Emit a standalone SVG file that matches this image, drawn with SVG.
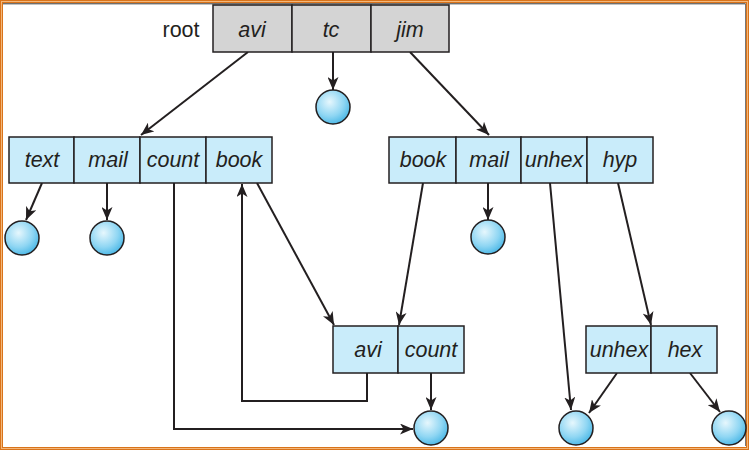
<svg xmlns="http://www.w3.org/2000/svg" width="749" height="450" viewBox="0 0 749 450">
<defs>
<marker id="ah" markerWidth="14" markerHeight="11" refX="13" refY="5.5" orient="auto" markerUnits="userSpaceOnUse">
<path d="M0,0 L13,5.5 L0,11 L3.5,5.5 z" fill="#231f20"/>
</marker>
<radialGradient id="ball" cx="0.4" cy="0.35" r="0.7">
<stop offset="0" stop-color="#e6f7fd"/>
<stop offset="0.6" stop-color="#8fd6f3"/>
<stop offset="1" stop-color="#45b5e5"/>
</radialGradient>
</defs>
<style>
.cell{stroke:#231f20;stroke-width:1.5}
.gray{fill:#d4d4d4}
.blue{fill:#c9ecfa}
.lbl{font-family:"Liberation Sans",Arial,sans-serif;font-style:italic;font-size:21.5px;fill:#231f20;text-anchor:middle}
.plain{font-family:"Liberation Sans",Arial,sans-serif;font-size:21.5px;fill:#231f20;text-anchor:middle}
.ball{fill:url(#ball);stroke:#231f20;stroke-width:1.5}
.con{stroke:#231f20;stroke-width:2;fill:none}
.arr{marker-end:url(#ah)}
</style>
<rect x="0" y="0" width="749" height="450" fill="#ffffff"/>
<rect x="1.5" y="1.5" width="746" height="447" fill="none" stroke="#f3b77a" stroke-width="3"/>
<rect x="0.5" y="0.5" width="748" height="449" fill="none" stroke="#d9731a" stroke-width="1"/>
<rect x="2.5" y="2.5" width="744" height="445" fill="none" stroke="#d9731a" stroke-width="1"/>
<line x1="3" y1="3.8" x2="745.5" y2="3.8" stroke="#333" stroke-width="1"/>
<line x1="745.5" y1="3.8" x2="745.5" y2="446" stroke="#555" stroke-width="0.8"/>

<g id="connectors">
<line class="con arr" x1="333" y1="52" x2="333" y2="90"/>
<line class="con arr" x1="248" y1="52" x2="141" y2="135"/>
<line class="con arr" x1="410" y1="52" x2="489" y2="135"/>
<line class="con arr" x1="42" y1="183" x2="26" y2="220"/>
<line class="con arr" x1="107" y1="183" x2="107" y2="220"/>
<line class="con arr" x1="488" y1="183" x2="488" y2="220"/>
<polyline class="con arr" points="174,183 174,429 413,429"/>
<polyline class="con arr" points="367,373 367,401 242,401 242,184"/>
<line class="con arr" x1="257" y1="183" x2="334" y2="325"/>
<line class="con arr" x1="423" y1="183" x2="399" y2="325"/>
<line class="con arr" x1="431" y1="373" x2="431" y2="410"/>
<line class="con arr" x1="550" y1="183" x2="571" y2="410"/>
<line class="con arr" x1="618" y1="183" x2="651" y2="325"/>
<line class="con arr" x1="617" y1="373" x2="589" y2="413"/>
<line class="con arr" x1="690" y1="373" x2="720" y2="412"/>
</g>

<g id="root">
<text class="plain" x="181" y="37">root</text>
<rect class="cell gray" x="213" y="5" width="79" height="47"/>
<rect class="cell gray" x="292" y="5" width="79" height="47"/>
<rect class="cell gray" x="371" y="5" width="78" height="47"/>
<text class="lbl" x="252" y="37">avi</text>
<text class="lbl" x="331" y="37">tc</text>
<text class="lbl" x="410" y="37">jim</text>
</g>

<g id="dir-avi">
<rect class="cell blue" x="9" y="137" width="65" height="46"/>
<rect class="cell blue" x="74" y="137" width="66" height="46"/>
<rect class="cell blue" x="140" y="137" width="66" height="46"/>
<rect class="cell blue" x="206" y="137" width="66" height="46"/>
<text class="lbl" x="42" y="167">text</text>
<text class="lbl" x="108" y="167">mail</text>
<text class="lbl" x="173" y="167">count</text>
<text class="lbl" x="239" y="167">book</text>
</g>

<g id="dir-jim">
<rect class="cell blue" x="389" y="137" width="67" height="46"/>
<rect class="cell blue" x="456" y="137" width="65" height="46"/>
<rect class="cell blue" x="521" y="137" width="66" height="46"/>
<rect class="cell blue" x="587" y="137" width="66" height="46"/>
<text class="lbl" x="423" y="167">book</text>
<text class="lbl" x="489" y="167">mail</text>
<text class="lbl" x="554" y="167">unhex</text>
<text class="lbl" x="620" y="167">hyp</text>
</g>

<g id="dir-book">
<rect class="cell blue" x="333" y="326" width="65" height="47"/>
<rect class="cell blue" x="398" y="326" width="66" height="47"/>
<text class="lbl" x="368" y="357">avi</text>
<text class="lbl" x="431" y="357">count</text>
</g>

<g id="dir-hyp">
<rect class="cell blue" x="586" y="326" width="65" height="47"/>
<rect class="cell blue" x="651" y="326" width="66" height="47"/>
<text class="lbl" x="619" y="357">unhex</text>
<text class="lbl" x="685" y="357">hex</text>
</g>

<g id="file-tc"><circle class="ball" cx="333" cy="107" r="17"/></g>
<g id="file-text"><circle class="ball" cx="22" cy="238" r="17"/></g>
<g id="file-mail1"><circle class="ball" cx="107" cy="238" r="17"/></g>
<g id="file-mail2"><circle class="ball" cx="488" cy="237" r="17"/></g>
<g id="file-count"><circle class="ball" cx="431" cy="428" r="17"/></g>
<g id="file-unhex"><circle class="ball" cx="576" cy="428" r="17"/></g>
<g id="file-hex"><circle class="ball" cx="729" cy="428" r="17"/></g>
</svg>
